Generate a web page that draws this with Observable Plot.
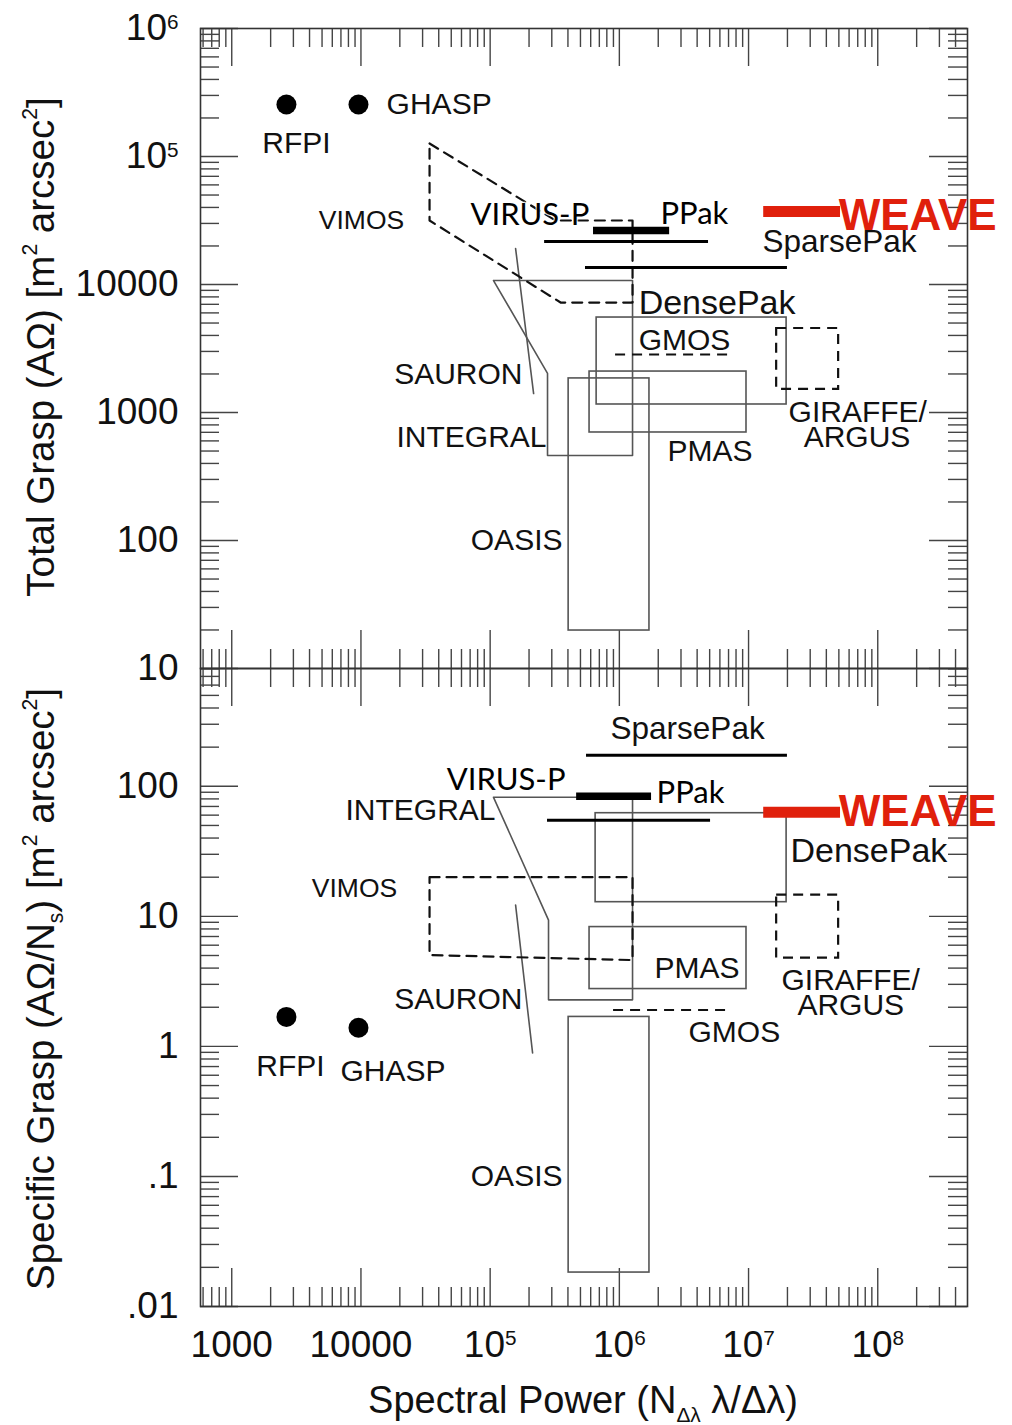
<!DOCTYPE html>
<html><head><meta charset="utf-8">
<script src="https://cdn.jsdelivr.net/npm/d3@7"></script>
<script src="https://cdn.jsdelivr.net/npm/@observablehq/plot@0.6"></script>
<style>
html,body{margin:0;padding:0;background:#fff;overflow:hidden}
#wrap{position:relative;width:1012px;height:1425px;font-family:"Liberation Sans",Arial,Helvetica,sans-serif;color:#111}
#top,#bot{position:absolute;left:0}
#top{top:0}
#bot{top:666px}
.t{position:absolute;white-space:nowrap;line-height:1;font-size:38.5px}
.yt{transform:translate(-50%,-50%) rotate(-90deg)}
.xt{transform:translate(-50%,-50%);font-size:38px}
sup{font-size:0.55em;vertical-align:0.8em;line-height:0}
sub{font-size:0.55em;vertical-align:-0.45em;line-height:0}
</style></head>
<body>
<div id="wrap">
  <div id="top"></div>
  <div id="bot"></div>
  <div class="t yt" style="left:41px;top:347px">Total Grasp (AΩ) [m<sup>2</sup> arcsec<sup>2</sup>]</div>
  <div class="t yt" style="left:41px;top:989px">Specific Grasp (AΩ/N<sub>s</sub>) [m<sup>2</sup> arcsec<sup>2</sup>]</div>
  <div class="t xt" style="left:583px;top:1400px">Spectral Power (N<sub>Δλ</sub> λ/Δλ)</div>
</div>
<script>
// ---------- axes ----------
const xDomain = [573, 4.95e8];
const topDomain = [10, 1e6];
const botDomain = [0.01, 805];

const xTicks = [1e3, 1e4, 1e5, 1e6, 1e7, 1e8];
const xTickLabels = ["1000", "10000", "10⁵", "10⁶", "10⁷", "10⁸"];
const topTicks = [10, 100, 1e3, 1e4, 1e5, 1e6];
const topTickLabels = ["10", "100", "1000", "10000", "10⁵", "10⁶"];
const botTicks = [0.01, 0.1, 1, 10, 100];
const botTickLabels = [".01", ".1", "1", "10", "100"];

// ---------- data: Total Grasp (top) ----------
const topDots = [
  {name: "RFPI", x: 2650, y: 2.55e5},
  {name: "GHASP", x: 9570, y: 2.55e5}
];
const topBoxes = [
  {name: "DensePak", x1: 6.67e5, x2: 1.97e7, y1: 1155, y2: 5520},
  {name: "PMAS", x1: 5.88e5, x2: 9.64e6, y1: 698, y2: 2089},
  {name: "OASIS", x1: 4.05e5, x2: 1.71e6, y1: 19.8, y2: 1846}
];
const topDashedBoxes = [
  {name: "GIRAFFE/ARGUS", x1: 1.65e7, x2: 4.98e7, y1: 1514, y2: 4530}
];
const topOutlines = [
  {name: "INTEGRAL", x: 1.062e5, y: 10740}, {name: "INTEGRAL", x: 1.265e6, y: 10740},
  {name: "INTEGRAL", x: 1.265e6, y: 461}, {name: "INTEGRAL", x: 2.78e5, y: 461},
  {name: "INTEGRAL", x: 2.78e5, y: 2018}, {name: "INTEGRAL", x: 1.062e5, y: 10740},
  {name: "SAURON", x: 1.574e5, y: 19100}, {name: "SAURON", x: 2.17e5, y: 1406}
];
const topDashedOutlines = [
  {name: "VIMOS", x: 33960, y: 1.264e5}, {name: "VIMOS", x: 3.21e5, y: 31620},
  {name: "VIMOS", x: 1.265e6, y: 31620}, {name: "VIMOS", x: 1.265e6, y: 7230},
  {name: "VIMOS", x: 3.51e5, y: 7230}, {name: "VIMOS", x: 33960, y: 31620},
  {name: "VIMOS", x: 33960, y: 1.264e5}
];
const topSegments = [
  {name: "GMOS", kind: "dashed", x1: 9.35e5, x2: 7.0e6, y: 2840},
  {name: "SparsePak", kind: "thin", x1: 5.47e5, x2: 2.0e7, y: 13580},
  {name: "PPak", kind: "thin", x1: 2.64e5, x2: 4.9e6, y: 21700},
  {name: "VIRUS-P", kind: "thick", x1: 6.31e5, x2: 2.45e6, y: 26400},
  {name: "WEAVE", kind: "weave", x1: 1.31e7, x2: 5.15e7, y: 37150}
];
const topLabels = [
  {name: "RFPI", x: 3170, y: 1.26e5, anchor: "middle"},
  {name: "GHASP", x: 15800, y: 2.55e5, anchor: "start"},
  {name: "VIMOS", x: 10100, y: 31600, anchor: "middle"},
  {name: "VIRUS-P", x: 70500, y: 34600, anchor: "start"},
  {name: "PPak", x: 2.08e6, y: 35200, anchor: "start"},
  {name: "SparsePak", x: 1.28e7, y: 21700, anchor: "start"},
  {name: "WEAVE", x: 4.98e7, y: 34600, anchor: "start"},
  {name: "DensePak", x: 1.41e6, y: 7110, anchor: "start"},
  {name: "GMOS", x: 1.41e6, y: 3650, anchor: "start"},
  {name: "SAURON", x: 1.78e5, y: 1980, anchor: "end"},
  {name: "INTEGRAL", x: 2.73e5, y: 640, anchor: "end"},
  {name: "GIRAFFE/", x: 2.04e7, y: 1000, anchor: "start"},
  {name: "ARGUS", x: 2.67e7, y: 640, anchor: "start"},
  {name: "PMAS", x: 2.36e6, y: 495, anchor: "start"},
  {name: "OASIS", x: 3.63e5, y: 100, anchor: "end"}
];

// ---------- data: Specific Grasp (bottom) ----------
const botDots = [
  {name: "RFPI", x: 2650, y: 1.685},
  {name: "GHASP", x: 9570, y: 1.39}
];
const botBoxes = [
  {name: "DensePak", x1: 6.55e5, x2: 1.97e7, y1: 12.85, y2: 62.1},
  {name: "PMAS", x1: 5.88e5, x2: 9.64e6, y1: 2.76, y2: 8.27},
  {name: "OASIS", x1: 4.05e5, x2: 1.71e6, y1: 0.01824, y2: 1.685}
];
const botDashedBoxes = [
  {name: "GIRAFFE/ARGUS", x1: 1.65e7, x2: 4.98e7, y1: 4.78, y2: 14.55}
];
const botOutlines = [
  {name: "INTEGRAL", x: 1.062e5, y: 82.3}, {name: "INTEGRAL", x: 1.265e6, y: 82.3},
  {name: "INTEGRAL", x: 1.265e6, y: 2.28}, {name: "INTEGRAL", x: 2.83e5, y: 2.28},
  {name: "INTEGRAL", x: 2.83e5, y: 9.36}, {name: "INTEGRAL", x: 1.062e5, y: 82.3},
  {name: "SAURON", x: 1.574e5, y: 12.2}, {name: "SAURON", x: 2.13e5, y: 0.891}
];
const botDashedOutlines = [
  {name: "VIMOS", x: 33960, y: 20.0}, {name: "VIMOS", x: 1.265e6, y: 20.0},
  {name: "VIMOS", x: 1.265e6, y: 4.61}, {name: "VIMOS", x: 33960, y: 5.04},
  {name: "VIMOS", x: 33960, y: 20.0}
];
const botSegments = [
  {name: "GMOS", kind: "dashed", x1: 9.02e5, x2: 6.87e6, y: 1.905},
  {name: "SparsePak", kind: "thin", x1: 5.57e5, x2: 2.0e7, y: 173},
  {name: "PPak", kind: "thin", x1: 2.78e5, x2: 5.08e6, y: 54.8},
  {name: "VIRUS-P", kind: "thick", x1: 4.67e5, x2: 1.775e6, y: 83.8},
  {name: "WEAVE", kind: "weave", x1: 1.31e7, x2: 5.15e7, y: 63.1}
];
const botLabels = [
  {name: "SparsePak", x: 8.55e5, y: 274, anchor: "start"},
  {name: "VIRUS-P", x: 3.83e5, y: 111, anchor: "end"},
  {name: "PPak", x: 1.94e6, y: 88.4, anchor: "start"},
  {name: "INTEGRAL", x: 1.10e5, y: 65.4, anchor: "end"},
  {name: "WEAVE", x: 4.98e7, y: 63.1, anchor: "start"},
  {name: "DensePak", x: 2.11e7, y: 31.7, anchor: "start"},
  {name: "VIMOS", x: 8920, y: 16.5, anchor: "middle"},
  {name: "SAURON", x: 1.78e5, y: 2.28, anchor: "end"},
  {name: "PMAS", x: 8.51e6, y: 4.01, anchor: "end"},
  {name: "GIRAFFE/", x: 1.80e7, y: 3.19, anchor: "start"},
  {name: "ARGUS", x: 2.39e7, y: 2.05, anchor: "start"},
  {name: "GMOS", x: 3.43e6, y: 1.29, anchor: "start"},
  {name: "RFPI", x: 2850, y: 0.708, anchor: "middle"},
  {name: "GHASP", x: 6950, y: 0.637, anchor: "start"},
  {name: "OASIS", x: 3.63e5, y: 0.0995, anchor: "end"}
];

// ---------- drawing ----------
const FONT = "'Liberation Sans', Arial, Helvetica, sans-serif";
const CAL = "Lato, 'Open Sans', sans-serif";
const RED = "#e0200c";
const INK = "#111";
const GRAY = "#555";

function minorTicks([lo, hi]) {
  const out = [];
  for (let e = Math.floor(Math.log10(lo)); e <= Math.ceil(Math.log10(hi)); e++)
    for (let k = 2; k <= 9; k++) {
      const v = k * Math.pow(10, e);
      if (v > lo * 1.0001 && v < hi * 0.9999) out.push(v);
    }
  return out;
}

function labelMarks(labels) {
  const marks = [];
  const special = {"VIRUS-P": 1, "PPak": 1, "WEAVE": 1};
  for (const anchor of ["start", "middle", "end"]) {
    const plain = labels.filter(d => d.anchor === anchor && !special[d.name]);
    for (const [size, names] of [[34, ["DensePak"]], [26.5, ["VIMOS"]], [31.5, ["SparsePak"]]]) {
      marks.push(Plot.text(plain.filter(d => names.includes(d.name)),
        {x: "x", y: "y", text: "name", textAnchor: anchor, fontSize: size, fontFamily: FONT, fill: INK}));
    }
    marks.push(Plot.text(plain.filter(d => !["DensePak", "VIMOS", "SparsePak"].includes(d.name)),
      {x: "x", y: "y", text: "name", textAnchor: anchor, fontSize: 30, fontFamily: FONT, fill: INK}));
    marks.push(Plot.text(labels.filter(d => d.anchor === anchor && (d.name === "VIRUS-P" || d.name === "PPak")),
      {x: "x", y: "y", text: "name", textAnchor: anchor, fontSize: 31, fontFamily: CAL, fill: "#000",
       stroke: "white", strokeWidth: 2.5, strokeOpacity: 0.8}));
    marks.push(Plot.text(labels.filter(d => d.anchor === anchor && d.name === "WEAVE"),
      {x: "x", y: "y", text: "name", textAnchor: anchor, fontSize: 44, fontWeight: "bold", fontFamily: FONT, fill: RED}));
  }
  return marks;
}

// turn trailing unicode superscript digits into a raised, smaller tspan
const SUP = {"⁰": "0", "¹": "1", "²": "2", "³": "3", "⁴": "4", "⁵": "5", "⁶": "6", "⁷": "7", "⁸": "8", "⁹": "9"};
function raiseSuperscripts(svg) {
  d3.select(svg).selectAll("text").each(function() {
    const t = this.textContent;
    const m = t.match(/^([^⁰¹²³⁴⁵⁶⁷⁸⁹]+)([⁰¹²³⁴⁵⁶⁷⁸⁹]+)$/);
    if (!m || this.querySelector("tspan")) return;
    const sel = d3.select(this);
    sel.text(m[1]);
    sel.append("tspan").attr("dy", "-0.55em").attr("font-size", "0.56em")
      .text([...m[2]].map(c => SUP[c]).join(""));
  });
}

function panel({yDomain, yTicks, yLabels, height, marginTop, marginBottom, showX, dots, boxes, dashedBoxes, outlines, dashedOutlines, segments, labels}) {
  const iw = 1012 - 200 - 45;
  const ih = height - marginTop - marginBottom;
  const xMinor = minorTicks(xDomain);
  const yMinor = minorTicks(yDomain);
  const tk = {stroke: "#444", strokeWidth: 1.4};
  const dash = "10,7";
  const marks = [
    // inward ticks on all four sides
    Plot.ruleX(xTicks, {...tk, insetBottom: ih - 38}),
    Plot.ruleX(xTicks, {...tk, insetTop: ih - 38}),
    Plot.ruleX(xMinor, {...tk, insetBottom: ih - 19}),
    Plot.ruleX(xMinor, {...tk, insetTop: ih - 19}),
    Plot.ruleY(yTicks, {...tk, insetRight: iw - 38}),
    Plot.ruleY(yTicks, {...tk, insetLeft: iw - 38}),
    Plot.ruleY(yMinor, {...tk, insetRight: iw - 19}),
    Plot.ruleY(yMinor, {...tk, insetLeft: iw - 19}),
    Plot.frame({stroke: "#333", strokeWidth: 1.6}),
    Plot.axisY({ticks: yTicks, tickFormat: d => yLabels[yTicks.indexOf(d)], tickSize: 0, tickPadding: 22,
      fontSize: 37, fontFamily: FONT, fill: INK, label: null}),
    // instruments
    Plot.rect(boxes, {x1: "x1", x2: "x2", y1: "y1", y2: "y2", fill: "none", stroke: GRAY, strokeWidth: 1.6}),
    Plot.line(outlines, {x: "x", y: "y", z: "name", stroke: GRAY, strokeWidth: 1.6}),
    Plot.rect(dashedBoxes, {x1: "x1", x2: "x2", y1: "y1", y2: "y2", fill: "none", stroke: INK, strokeWidth: 2.2, strokeDasharray: dash}),
    Plot.line(dashedOutlines, {x: "x", y: "y", z: "name", stroke: INK, strokeWidth: 2.2, strokeDasharray: dash}),
    Plot.ruleY(segments.filter(d => d.kind === "dashed"), {y: "y", x1: "x1", x2: "x2", stroke: INK, strokeWidth: 2.2, strokeDasharray: dash}),
    Plot.ruleY(segments.filter(d => d.kind === "thin"), {y: "y", x1: "x1", x2: "x2", stroke: "#000", strokeWidth: 3}),
    Plot.ruleY(segments.filter(d => d.kind === "thick"), {y: "y", x1: "x1", x2: "x2", stroke: "#000", strokeWidth: 7.5}),
    Plot.ruleY(segments.filter(d => d.kind === "weave"), {y: "y", x1: "x1", x2: "x2", stroke: RED, strokeWidth: 11}),
    Plot.dot(dots, {x: "x", y: "y", r: 10, fill: "#000", stroke: "none"}),
    ...labelMarks(labels)
  ];
  if (showX) {
    marks.push(Plot.axisX({ticks: xTicks, tickFormat: d => xTickLabels[xTicks.indexOf(d)], tickSize: 0, tickPadding: 24,
      fontSize: 37, fontFamily: FONT, fill: INK, label: null}));
  }
  const svg = Plot.plot({
    width: 1012, height, marginLeft: 200, marginRight: 45, marginTop, marginBottom,
    style: {background: "transparent", overflow: "visible", fontFamily: FONT},
    x: {type: "log", domain: xDomain, axis: null},
    y: {type: "log", domain: yDomain, axis: null},
    marks
  });
  raiseSuperscripts(svg);
  return svg;
}

document.getElementById("top").append(panel({
  yDomain: topDomain, yTicks: topTicks, yLabels: topTickLabels,
  height: 670, marginTop: 28, marginBottom: 2, showX: false,
  dots: topDots, boxes: topBoxes, dashedBoxes: topDashedBoxes, outlines: topOutlines,
  dashedOutlines: topDashedOutlines, segments: topSegments, labels: topLabels
}));
document.getElementById("bot").append(panel({
  yDomain: botDomain, yTicks: botTicks, yLabels: botTickLabels,
  height: 759, marginTop: 2, marginBottom: 119, showX: true,
  dots: botDots, boxes: botBoxes, dashedBoxes: botDashedBoxes, outlines: botOutlines,
  dashedOutlines: botDashedOutlines, segments: botSegments, labels: botLabels
}));
</script>
</body></html>
